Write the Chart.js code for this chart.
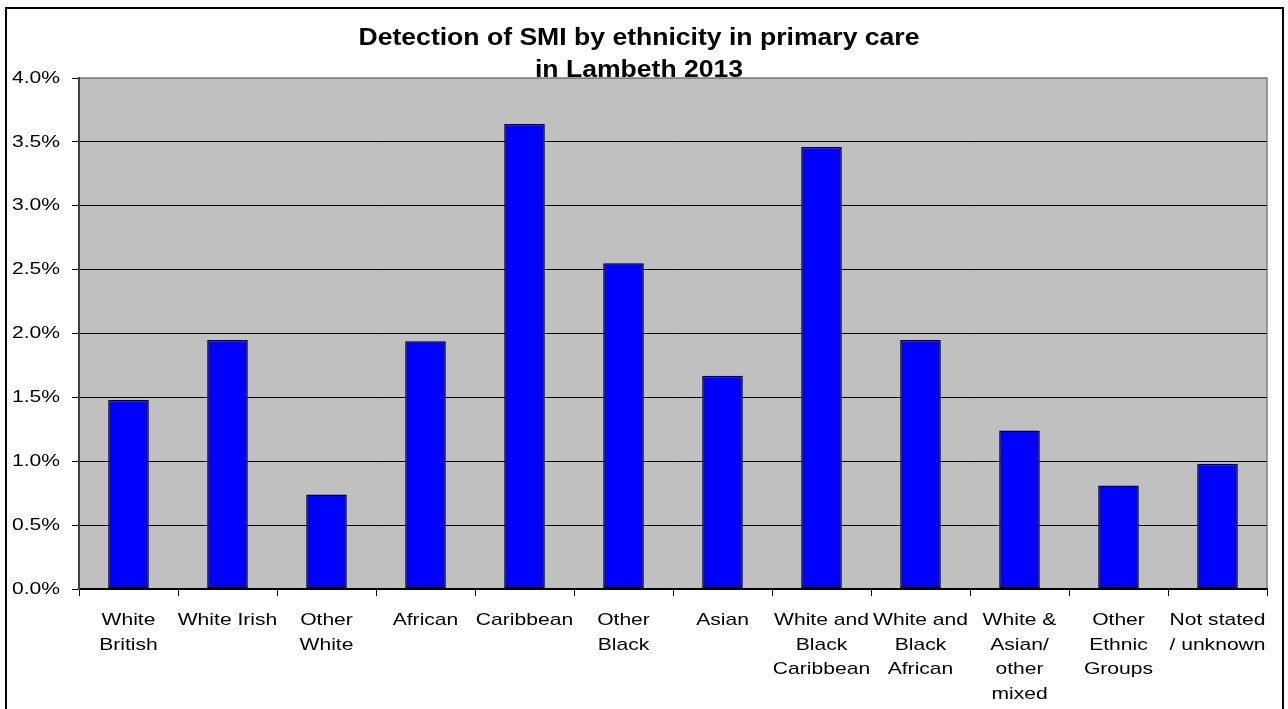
<!DOCTYPE html>
<html>
<head>
<meta charset="utf-8">
<script src="https://cdn.jsdelivr.net/npm/chart.js@4/dist/chart.umd.min.js"></script>
<style>
  html, body { margin: 0; padding: 0; background: #ffffff; }
  #wrap { width: 1288px; height: 709px; position: relative; }
</style>
</head>
<body>
<div id="wrap"><canvas id="c" width="1288" height="709"></canvas></div>
<script>
// Ethnic groups (multi-line axis labels)
const categories = [
  ['White', 'British'],
  ['White Irish'],
  ['Other', 'White'],
  ['African'],
  ['Caribbean'],
  ['Other', 'Black'],
  ['Asian'],
  ['White and', 'Black', 'Caribbean'],
  ['White and', 'Black', 'African'],
  ['White &', 'Asian/', 'other', 'mixed'],
  ['Other', 'Ethnic', 'Groups'],
  ['Not stated', '/ unknown']
];

// Detection rate of SMI, percent of registered patients
const smiRate = [1.48, 1.95, 0.74, 1.94, 3.64, 2.55, 1.67, 3.46, 1.95, 1.24, 0.81, 0.98];

// Value axis ticks (percent)
const yTicks = [0.0, 0.5, 1.0, 1.5, 2.0, 2.5, 3.0, 3.5, 4.0];

const titleLines = ['Detection of SMI by ethnicity in primary care', 'in Lambeth 2013'];

const FONT = '"Liberation Sans", Arial, sans-serif';
const STRETCH = 1.24;   // wide, horizontally stretched lettering

function wideText(ctx, text, x, y, align, sx) {
  ctx.save();
  ctx.translate(x, y);
  ctx.scale(sx, 1);
  ctx.textAlign = align;
  ctx.fillText(text, 0, 0);
  ctx.restore();
}

// Frame, grey plot background, title and axis labels drawn around the chart
const decor = {
  id: 'decor',
  beforeDraw(chart) {
    const ctx = chart.ctx;
    const a = chart.chartArea;
    ctx.save();
    ctx.fillStyle = '#ffffff';
    ctx.fillRect(0, 0, chart.width, chart.height);
    ctx.strokeStyle = '#000000';
    ctx.lineWidth = 2;
    ctx.strokeRect(6, 8, 1277, 720);
    ctx.fillStyle = '#c0c0c0';
    ctx.fillRect(a.left, a.top, a.right - a.left, a.bottom - a.top);
    ctx.strokeStyle = '#808080';
    ctx.lineWidth = 1.5;
    ctx.beginPath();
    ctx.moveTo(a.left, a.top);
    ctx.lineTo(a.right, a.top);
    ctx.lineTo(a.right, a.bottom);
    ctx.stroke();
    ctx.restore();
  },
  afterDraw(chart) {
    const ctx = chart.ctx;
    const xs = chart.scales.x;
    const ys = chart.scales.y;
    ctx.save();
    ctx.fillStyle = '#000000';

    // title
    ctx.font = 'bold 23px ' + FONT;
    ctx.textBaseline = 'alphabetic';
    wideText(ctx, titleLines[0], 639, 45, 'center', 1.155);
    wideText(ctx, titleLines[1], 639, 77, 'center', 1.155);

    // value axis labels
    ctx.font = '17px ' + FONT;
    ctx.textBaseline = 'middle';
    ys.ticks.forEach((t, i) => {
      wideText(ctx, t.value.toFixed(1) + '%', 60, ys.getPixelForTick(i), 'right', STRETCH);
    });

    // category labels
    ctx.textBaseline = 'alphabetic';
    categories.forEach((lines, i) => {
      const x = xs.getPixelForTick(i);
      lines.forEach((ln, k) => {
        wideText(ctx, ln, x, 625 + k * 24.5, 'center', STRETCH);
      });
    });
    ctx.restore();
  }
};

new Chart(document.getElementById('c'), {
  type: 'bar',
  data: {
    labels: categories,
    datasets: [{
      data: smiRate,
      backgroundColor: '#0000ff',
      borderColor: '#000000',
      borderWidth: 1.5,
      borderSkipped: false,
      categoryPercentage: 1.0,
      barPercentage: 0.41
    }]
  },
  options: {
    responsive: false,
    animation: false,
    layout: { padding: { top: 78, right: 21, bottom: 0, left: 0 } },
    plugins: { legend: { display: false }, title: { display: false }, tooltip: { enabled: false } },
    scales: {
      x: {
        offset: true,
        grid: {
          offset: true,
          drawOnChartArea: false,
          drawTicks: true,
          tickLength: 7,
          tickColor: '#000000',
          lineWidth: 1
        },
        border: { color: '#000000', width: 1.5 },
        ticks: { display: false, autoSkip: false, maxRotation: 0 },
        afterFit(s) { s.height = 120; }
      },
      y: {
        min: 0,
        max: 4,
        afterBuildTicks(s) { s.ticks = yTicks.map(v => ({ value: v })); },
        grid: {
          color(c) { return c.tick && c.tick.value === 4 ? '#808080' : '#000000'; },
          lineWidth: 1,
          drawTicks: true,
          tickLength: 7,
          tickColor: '#000000'
        },
        border: { color: '#404040', width: 2 },
        ticks: { display: false },
        afterFit(s) { s.width = 79; }
      }
    }
  },
  plugins: [decor]
});
</script>
</body>
</html>
